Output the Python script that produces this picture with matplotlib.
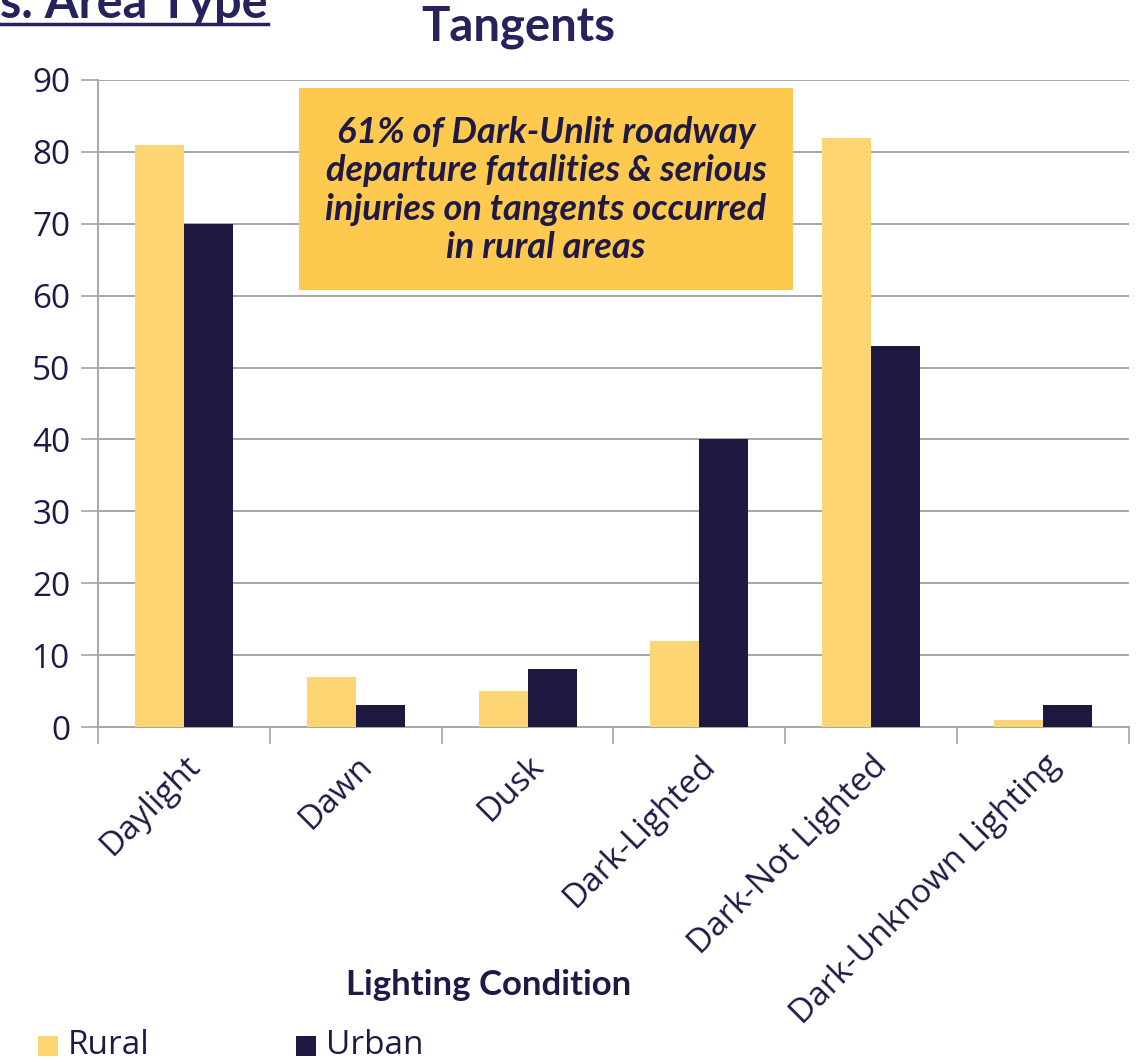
import matplotlib.pyplot as plt
from matplotlib.patches import Rectangle
from matplotlib.lines import Line2D
import numpy as np

categories = ['Daylight', 'Dawn', 'Dusk', 'Dark-Lighted', 'Dark-Not Lighted',
              'Dark-Unknown Lighting']
rural = [81, 7, 5, 12, 82, 1]
urban = [70, 3, 8, 40, 53, 3]
y_ticks = [0, 10, 20, 30, 40, 50, 60, 70, 80, 90]

RURAL_C = '#fdd673'
URBAN_C = '#1e1941'
TEXT_C = '#1f1a45'
TITLE_C = '#25225c'
GRID_C = '#a6a6a6'
BOX_C = '#fdc94e'

W, H = 1138, 1062
fig = plt.figure(figsize=(W / 100, H / 100), dpi=100)


def fx(px):
    return px / W


def fy(py):
    return 1 - py / H


ax = fig.add_axes([fx(98), fy(727), fx(1129) - fx(98), fy(80) - fy(727)])

x = np.arange(len(categories))
bw = 0.285
ax.bar(x - bw / 2, rural, bw, color=RURAL_C, zorder=3)
ax.bar(x + bw / 2, urban, bw, color=URBAN_C, zorder=3)

ax.set_xlim(-0.5, len(categories) - 0.5)
ax.set_ylim(0, 90)
ax.set_yticks(y_ticks)
ax.yaxis.grid(True, color=GRID_C, lw=1.4, zorder=0)
ax.set_axisbelow(True)

for s in ['top', 'right']:
    ax.spines[s].set_visible(False)
for s in ['left', 'bottom']:
    ax.spines[s].set_color(GRID_C)
    ax.spines[s].set_linewidth(1.4)

ax.set_xticks(x)
ax.set_xticks(np.arange(-0.5, len(categories)), minor=True)
ax.tick_params(axis='x', which='major', length=0, pad=16)
ax.tick_params(axis='x', which='minor', length=12, width=1.2, color=GRID_C)
ax.tick_params(axis='y', length=12, width=1.2, color=GRID_C, pad=8,
               labelsize=24, labelcolor=TEXT_C)
for lab in ax.get_yticklabels():
    lab.set_fontfamily('Open Sans')

ax.set_xticklabels(categories, rotation=45, ha='right', va='top',
                   rotation_mode='anchor', fontsize=24, color=TEXT_C,
                   fontfamily='Open Sans')

# axis title
fig.text(fx(489), fy(985), 'Lighting Condition', ha='center', va='center',
         fontsize=25, fontweight='bold', color=TEXT_C, fontfamily='Lato')

# chart title and the heading running off the top left edge
fig.text(fx(518), fy(27), 'Tangents', ha='center', va='center',
         fontsize=34, fontweight='bold', color=TITLE_C, fontfamily='Lato')
fig.text(fx(0), fy(18), 's. Area Type', ha='left', va='baseline',
         fontsize=35, fontweight='bold', color=TITLE_C, fontfamily='Lato')
fig.add_artist(Line2D([fx(0), fx(268)], [fy(24), fy(24)], color=TITLE_C,
                      lw=2.5))

# callout box
fig.add_artist(Rectangle((fx(299), fy(290)), fx(793) - fx(299),
                         fy(88) - fy(290), transform=fig.transFigure,
                         facecolor=BOX_C, edgecolor='none', zorder=5))
fig.text(fx(546), fy(190),
         '61% of Dark-Unlit roadway\ndeparture fatalities & serious\n'
         'injuries on tangents occurred\nin rural areas',
         ha='center', va='center', fontsize=26, fontweight='bold',
         fontstyle='italic', color=TEXT_C, fontfamily='Lato',
         linespacing=1.2, zorder=6)

# legend
for px, label, c in [(38, 'Rural', RURAL_C), (296, 'Urban', URBAN_C)]:
    fig.add_artist(Rectangle((fx(px), fy(1056)), fx(20), 20 / H,
                             transform=fig.transFigure, facecolor=c,
                             edgecolor='none'))
    fig.text(fx(px + 30), fy(1046), label, ha='left', va='center',
             fontsize=24, color=TEXT_C, fontfamily='Open Sans')

fig.savefig('out.png', dpi=100)
